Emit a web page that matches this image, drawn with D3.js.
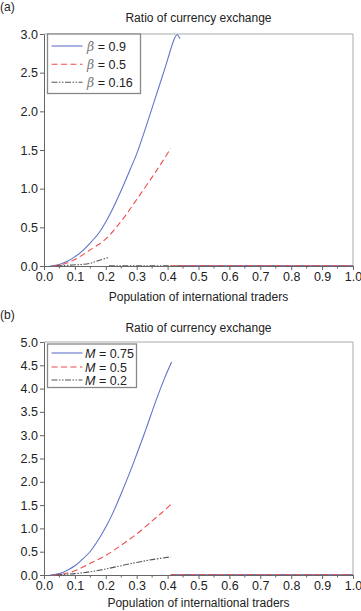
<!DOCTYPE html>
<html><head><meta charset="utf-8">
<script src="https://cdn.jsdelivr.net/npm/d3@7"></script>
<style>
html,body{margin:0;padding:0;background:#fff;}
svg{display:block;font-family:"Liberation Sans",Arial,sans-serif;}
</style></head>
<body>
<svg id="c" width="361" height="611"></svg>
<script>
// ---------- data ----------
const xTicks = [0,0.1,0.2,0.3,0.4,0.5,0.6,0.7,0.8,0.9,1.0];
const yTicksA = [0,0.5,1.0,1.5,2.0,2.5,3.0];
const yTicksB = [0,0.5,1.0,1.5,2.0,2.5,3.0,3.5,4.0,4.5,5.0];
const titleText = "Ratio of currency exchange";
const xTitleA = "Population of international traders";
const xTitleB = "Population of internaltional traders";

// Panel (a): beta series
const aBlueX = [0.02,0.05,0.08,0.10,0.12,0.15,0.18,0.20,0.22,0.25,0.28,0.30,0.33,0.36,0.39,0.41,0.42,0.43,0.44];
const aBlueY = [0,0.02,0.07,0.12,0.18,0.30,0.44,0.57,0.72,0.98,1.26,1.45,1.80,2.17,2.54,2.80,2.92,2.99,2.94];
const aRedX  = [0.03,0.06,0.10,0.15,0.20,0.25,0.30,0.35,0.38,0.41];
const aRedY  = [0,0.02,0.085,0.21,0.35,0.58,0.86,1.15,1.33,1.52];
const aBlkX  = [0.04,0.08,0.12,0.15,0.18,0.21];
const aBlkY  = [0,0.01,0.02,0.035,0.075,0.11];
const aTailStart = [0.44,0.41,0.21];   // blue, red, black continue at zero
const aLabels = ["0.9","0.5","0.16"];

// Panel (b): M series
const bBlueX = [0.02,0.05,0.08,0.10,0.12,0.15,0.18,0.20,0.22,0.25,0.28,0.30,0.33,0.36,0.39,0.413];
const bBlueY = [0,0.03,0.12,0.20,0.31,0.51,0.80,1.03,1.29,1.75,2.24,2.59,3.13,3.70,4.22,4.57];
const bRedX  = [0.03,0.06,0.10,0.15,0.20,0.25,0.30,0.35,0.38,0.41];
const bRedY  = [0,0.02,0.09,0.25,0.42,0.64,0.88,1.16,1.33,1.51];
const bBlkX  = [0.04,0.10,0.15,0.20,0.25,0.30,0.35,0.41];
const bBlkY  = [0,0.03,0.07,0.13,0.20,0.27,0.33,0.39];
const bTailStart = [0.413,0.41,0.41];
const bLabels = ["0.75","0.5","0.2"];

// ---------- styles ----------
const colors = ["#6275c8","#ee4b4b","#555555"];
const dashes = [null,"6,3.5","6,1.5,1.5,1.5,1.5,1.5"];

const svg = d3.select("#c");

function panel(opt){
  const g = svg.append("g");
  const x = d3.scaleLinear().domain([0,1]).range([44,353]);
  const y = d3.scaleLinear().domain([0,opt.ymax]).range([opt.bottom,opt.top]);

  g.append("text").attr("x",0).attr("y",opt.letterY).attr("font-size",12).attr("fill","#222").text(opt.letter);
  g.append("text").attr("x",198.5).attr("y",opt.titleY).attr("text-anchor","middle")
    .attr("font-size",12).attr("fill","#222").text(titleText);

  g.append("line").attr("x1",x(0)).attr("x2",x(1)).attr("y1",y(opt.ymax)).attr("y2",y(opt.ymax))
    .attr("stroke","#aaa").attr("stroke-width",1);
  g.append("line").attr("x1",x(1)).attr("x2",x(1)).attr("y1",y(opt.ymax)).attr("y2",y(0))
    .attr("stroke","#aaa").attr("stroke-width",1);

  // zero tails
  [2,0,1].forEach(i=>{
    g.append("path").attr("d",d3.line().x(d=>x(d[0])).y(d=>y(d[1]))([[opt.tails[i],0],[1,0]]))
      .attr("fill","none").attr("stroke",colors[i]).attr("stroke-width",1.3)
      .attr("stroke-dasharray",dashes[i]);
  });

  // axes
  const xAxis = d3.axisBottom(x).tickValues(xTicks).tickFormat(d3.format(".1f")).tickSize(4).tickSizeOuter(0);
  const xg = g.append("g").attr("transform",`translate(0,${y(0)})`).call(xAxis);
  const minor = d3.range(0.05,1,0.1);
  xg.selectAll(".minor").data(minor).enter().append("line").attr("class","minor")
    .attr("x1",d=>x(d)).attr("x2",d=>x(d)).attr("y1",0).attr("y2",2.5).attr("stroke","#666");
  const yAxis = d3.axisLeft(y).tickValues(opt.yTicks).tickFormat(d3.format(".1f")).tickSize(4).tickSizeOuter(0);
  const yg = g.append("g").attr("transform",`translate(${x(0)},0)`).call(yAxis);
  [xg,yg].forEach(a=>{
    a.select(".domain").attr("stroke","#666");
    a.selectAll(".tick line").attr("stroke","#666");
    a.selectAll(".tick text").attr("font-size",12.5).attr("fill","#222")
      .attr("font-family","Liberation Sans, Arial, sans-serif");
  });
  yg.selectAll(".tick text").attr("x",-6);
  xg.selectAll(".tick text").attr("y",6);

  // series
  const line = d3.line().x(d=>x(d[0])).y(d=>y(d[1])).curve(d3.curveCatmullRom.alpha(0.5));
  opt.series.forEach((s,i)=>{
    const pts = s.x.map((v,k)=>[v,s.y[k]]);
    g.append("path").attr("d",line(pts)).attr("fill","none")
      .attr("stroke",colors[i]).attr("stroke-width",1.1)
      .attr("stroke-dasharray",dashes[i]);
  });

  g.append("text").attr("x",198.5).attr("y",opt.xTitleY).attr("text-anchor","middle")
    .attr("font-size",12).attr("fill","#222").text(opt.xTitle);

  // legend
  const L = opt.legend;
  g.append("rect").attr("x",L.x).attr("y",L.y).attr("width",L.w).attr("height",L.h)
    .attr("fill","#fff").attr("stroke","#888").attr("stroke-width",1.3);
  opt.labels.forEach((lab,i)=>{
    const yy = L.rows[i];
    g.append("line").attr("x1",51.5).attr("x2",82.5).attr("y1",yy).attr("y2",yy)
      .attr("stroke",colors[i]).attr("stroke-width",1.1).attr("stroke-dasharray",dashes[i]);
    const t = g.append("text").attr("x",L.tx).attr("y",yy+4.5).attr("font-size",12.5).attr("fill","#222");
    t.append("tspan").attr("font-style","italic").attr("font-family",opt.symFont).attr("fill",opt.symColor).text(opt.sym);
    t.append("tspan").text(" = " + lab);
  });
}

panel({letter:"(a)",letterY:11,titleY:22,top:34,bottom:266,ymax:3.0,yTicks:yTicksA,
  series:[{x:aBlueX,y:aBlueY},{x:aRedX,y:aRedY},{x:aBlkX,y:aBlkY}],
  tails:aTailStart,labels:aLabels,xTitle:xTitleA,xTitleY:301,
  sym:"β",symFont:"DejaVu Serif, serif",symColor:"#777",
  legend:{x:47.5,y:34,w:93,h:59.5,rows:[46,64.3,82.3],tx:87}});

panel({letter:"(b)",letterY:319,titleY:332,top:342,bottom:575,ymax:5.0,yTicks:yTicksB,
  series:[{x:bBlueX,y:bBlueY},{x:bRedX,y:bRedY},{x:bBlkX,y:bBlkY}],
  tails:bTailStart,labels:bLabels,xTitle:xTitleB,xTitleY:607,
  sym:"M",symFont:"Liberation Sans, Arial, sans-serif",symColor:"#222",
  legend:{x:47.5,y:344,w:89,h:43.5,rows:[353,367,380],tx:85}});
</script>
</body></html>
